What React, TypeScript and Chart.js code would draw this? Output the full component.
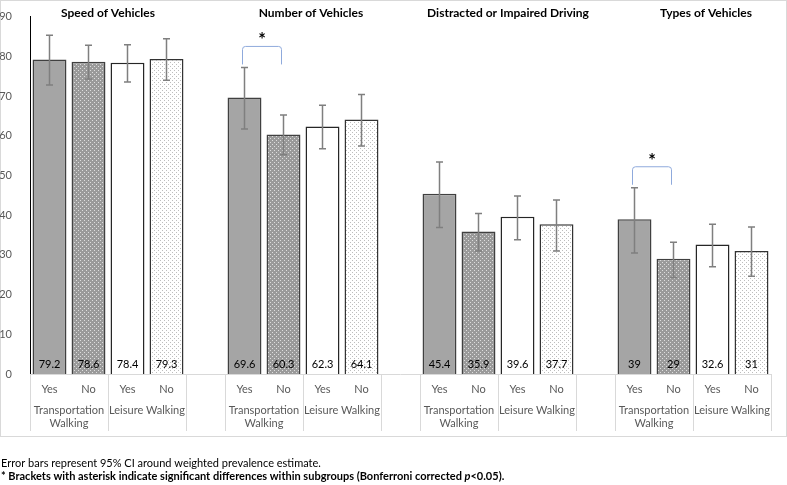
import React, { useEffect, useRef } from 'react';
import { Chart, registerables } from 'chart.js';

Chart.register(...registerables);

const groupTitles = ['Speed of Vehicles', 'Number of Vehicles', 'Distracted or Impaired Driving', 'Types of Vehicles'];
const barLabels = ['Yes', 'No', 'Yes', 'No'];
const walkTypes = [['Transportation', 'Walking'], ['Leisure Walking']];

// weighted prevalence (%)
const transportYes = [79.2, 69.6, 45.4, 39];
const transportNo = [78.6, 60.3, 35.9, 29];
const leisureYes = [78.4, 62.3, 39.6, 32.6];
const leisureNo = [79.3, 64.1, 37.7, 31];

// 95% CI [low, high]
const transportYesCI = [[72.8, 85.3], [61.7, 77.2], [36.9, 53.4], [30.5, 46.9]];
const transportNoCI = [[74.3, 82.8], [55.2, 65.2], [31.0, 40.4], [24.3, 33.2]];
const leisureYesCI = [[73.5, 82.9], [56.7, 67.7], [33.8, 44.8], [27.0, 37.7]];
const leisureNoCI = [[74.0, 84.4], [57.4, 70.4], [31.0, 43.8], [24.6, 37.0]];

// bracket + asterisk between transportation Yes/No
const significant = [false, true, false, true];

const yTicks = { min: 0, max: 90, step: 10 };

const FONT = 'Lato, "Open Sans", sans-serif';
const SLOTS = barLabels.length + 1;

const categories: string[] = [];
groupTitles.forEach((_, g) => {
    categories.push(...barLabels);
    if (g < groupTitles.length - 1) categories.push('');
});

const place = (values: number[], b: number) =>
    categories.map((_, i) => (i % SLOTS === b ? values[Math.floor(i / SLOTS)] : null));

const makePattern = (base: string, dot: string) => {
    const c = document.createElement('canvas');
    c.width = 4;
    c.height = 4;
    const x = c.getContext('2d')!;
    x.fillStyle = base;
    x.fillRect(0, 0, 4, 4);
    x.fillStyle = dot;
    x.fillRect(0, 0, 1, 1);
    x.fillRect(2, 2, 1, 1);
    return x.createPattern(c, 'repeat')!;
};

const overlay = {
    id: 'overlay',
    beforeDraw(chart: any) {
        const ctx = chart.ctx;
        ctx.save();
        ctx.strokeStyle = '#d9d9d9';
        ctx.lineWidth = 1;
        ctx.strokeRect(0.5, 0.5, 786, 436);
        ctx.restore();
    },
    afterDatasetsDraw(chart: any) {
        const ctx = chart.ctx;
        const xs = chart.scales.x;
        const ys = chart.scales.y;
        const zero = ys.getPixelForValue(0);
        const slot = (xs.right - xs.left) / categories.length;
        const cis = [transportYesCI, transportNoCI, leisureYesCI, leisureNoCI];
        const vals = [transportYes, transportNo, leisureYes, leisureNo];
        ctx.save();

        // error bars
        ctx.strokeStyle = '#7f7f7f';
        ctx.lineWidth = 1.5;
        cis.forEach((ci, d) => {
            const meta = chart.getDatasetMeta(d);
            ci.forEach(([lo, hi], g) => {
                const el = meta.data[g * SLOTS + d];
                const x = el.x;
                const y1 = ys.getPixelForValue(lo);
                const y2 = ys.getPixelForValue(hi);
                ctx.beginPath();
                ctx.moveTo(x, y1);
                ctx.lineTo(x, y2);
                ctx.moveTo(x - 3.5, y1);
                ctx.lineTo(x + 3.5, y1);
                ctx.moveTo(x - 3.5, y2);
                ctx.lineTo(x + 3.5, y2);
                ctx.stroke();
            });
        });

        // value labels at the bar base
        ctx.fillStyle = '#000';
        ctx.font = `11px ${FONT}`;
        ctx.textAlign = 'center';
        ctx.textBaseline = 'middle';
        vals.forEach((v, d) => {
            const meta = chart.getDatasetMeta(d);
            v.forEach((val, g) => {
                const el = meta.data[g * SLOTS + d];
                ctx.fillText(String(val), el.x, zero - 10);
            });
        });

        // brackets
        significant.forEach((sig, g) => {
            if (!sig) return;
            const a = chart.getDatasetMeta(0).data[g * SLOTS].x - 2;
            const b = chart.getDatasetMeta(1).data[g * SLOTS + 1].x - 2;
            const bottom = ys.getPixelForValue(transportYesCI[g][1]) - 3;
            const top = bottom - 18;
            const r = 3;
            ctx.strokeStyle = '#8faadc';
            ctx.lineWidth = 1;
            ctx.beginPath();
            ctx.moveTo(a, bottom);
            ctx.lineTo(a, top + r);
            ctx.quadraticCurveTo(a, top, a + r, top);
            ctx.lineTo(b - r, top);
            ctx.quadraticCurveTo(b, top, b, top + r);
            ctx.lineTo(b, bottom);
            ctx.stroke();
            ctx.fillStyle = '#000';
            ctx.font = `bold 18px ${FONT}`;
            ctx.fillText('*', (a + b) / 2, top - 6);
        });

        // group titles
        const shift = [0, 8, 10, 13];
        ctx.fillStyle = '#000';
        ctx.font = `bold 12px ${FONT}`;
        groupTitles.forEach((t, g) => {
            const x1 = xs.getPixelForValue(g * SLOTS);
            const x2 = xs.getPixelForValue(g * SLOTS + 3);
            ctx.fillText(t, (x1 + x2) / 2 + shift[g], 13);
        });

        // category axis
        ctx.strokeStyle = '#d9d9d9';
        ctx.lineWidth = 1;
        ctx.beginPath();
        ctx.moveTo(xs.left, Math.round(zero) + 0.5);
        ctx.lineTo(xs.right, Math.round(zero) + 0.5);
        const bounds = new Set<number>();
        groupTitles.forEach((_, g) => {
            const s = g * SLOTS;
            [s, s + 2, s + 4].forEach((k) => bounds.add(k));
            if (g < groupTitles.length - 1) bounds.add(s + 5);
        });
        bounds.forEach((k) => {
            const x = Math.round(xs.left + k * slot) + 0.5;
            ctx.moveTo(x, zero);
            ctx.lineTo(x, 431);
        });
        ctx.stroke();

        ctx.fillStyle = '#595959';
        ctx.font = `11px ${FONT}`;
        categories.forEach((c, i) => {
            if (c) ctx.fillText(c, xs.getPixelForValue(i), 389);
        });
        groupTitles.forEach((_, g) => {
            walkTypes.forEach((lines, w) => {
                const cx = xs.left + (g * SLOTS + w * 2 + 1) * slot;
                lines.forEach((ln, j) => ctx.fillText(ln, cx, 410 + j * 13));
            });
        });

        // footnotes
        ctx.fillStyle = '#000';
        ctx.textAlign = 'left';
        ctx.font = `11px ${FONT}`;
        ctx.fillText('Error bars represent 95% CI around weighted prevalence estimate.', 1, 463);
        const note = '* Brackets with asterisk indicate significant differences within subgroups (Bonferroni corrected ';
        ctx.font = `bold 11px ${FONT}`;
        ctx.fillText(note, 1, 476);
        let x = 1 + ctx.measureText(note).width;
        ctx.font = `italic bold 11px ${FONT}`;
        ctx.fillText('p', x, 476);
        x += ctx.measureText('p').width;
        ctx.font = `bold 11px ${FONT}`;
        ctx.fillText('<0.05).', x, 476);
        ctx.restore();
    },
};

const App: React.FC = () => {
    const chartRef = useRef<HTMLCanvasElement>(null);
    const chartInstanceRef = useRef<Chart | null>(null);

    useEffect(() => {
        if (!chartRef.current) return;
        const ctx = chartRef.current.getContext('2d');
        if (!ctx) return;
        if (chartInstanceRef.current) chartInstanceRef.current.destroy();

        const common = { borderColor: '#404040', borderWidth: 1.5, skipNull: true, barPercentage: 0.87, categoryPercentage: 1 };

        chartInstanceRef.current = new Chart(ctx, {
            type: 'bar',
            data: {
                labels: categories,
                datasets: [
                    { label: 'Transportation Walking - Yes', data: place(transportYes, 0), backgroundColor: '#a5a5a5', ...common },
                    { label: 'Transportation Walking - No', data: place(transportNo, 1), backgroundColor: makePattern('#9a9a9a', '#dedede'), ...common },
                    { label: 'Leisure Walking - Yes', data: place(leisureYes, 2), backgroundColor: '#ffffff', ...common, borderColor: '#262626' },
                    { label: 'Leisure Walking - No', data: place(leisureNo, 3), backgroundColor: makePattern('#ffffff', '#bdbdbd'), ...common, borderColor: '#333333' },
                ] as any,
            },
            options: {
                responsive: false,
                animation: false,
                layout: { padding: { top: 13, right: 16, bottom: 45, left: 0 } },
                scales: {
                    x: {
                        grid: { display: false },
                        border: { display: false },
                        ticks: { display: false },
                        afterFit: (s: any) => { s.height = 66; },
                    },
                    y: {
                        min: yTicks.min,
                        max: yTicks.max,
                        grid: { display: false },
                        border: { display: true, color: '#000', width: 1 },
                        ticks: { stepSize: yTicks.step, color: '#595959', font: { family: FONT, size: 11 }, padding: 10 },
                        afterFit: (s: any) => { s.width = 30; },
                    },
                },
                plugins: {
                    legend: { display: false },
                    tooltip: { enabled: false },
                },
            },
            plugins: [overlay],
        });

        return () => {
            if (chartInstanceRef.current) {
                chartInstanceRef.current.destroy();
                chartInstanceRef.current = null;
            }
        };
    }, []);

    return (
        <div style={{ position: 'absolute', left: 0, top: 0, width: 787, height: 485, background: '#fff' }}>
            <canvas ref={chartRef} width={787} height={485} />
        </div>
    );
};

export default App;
